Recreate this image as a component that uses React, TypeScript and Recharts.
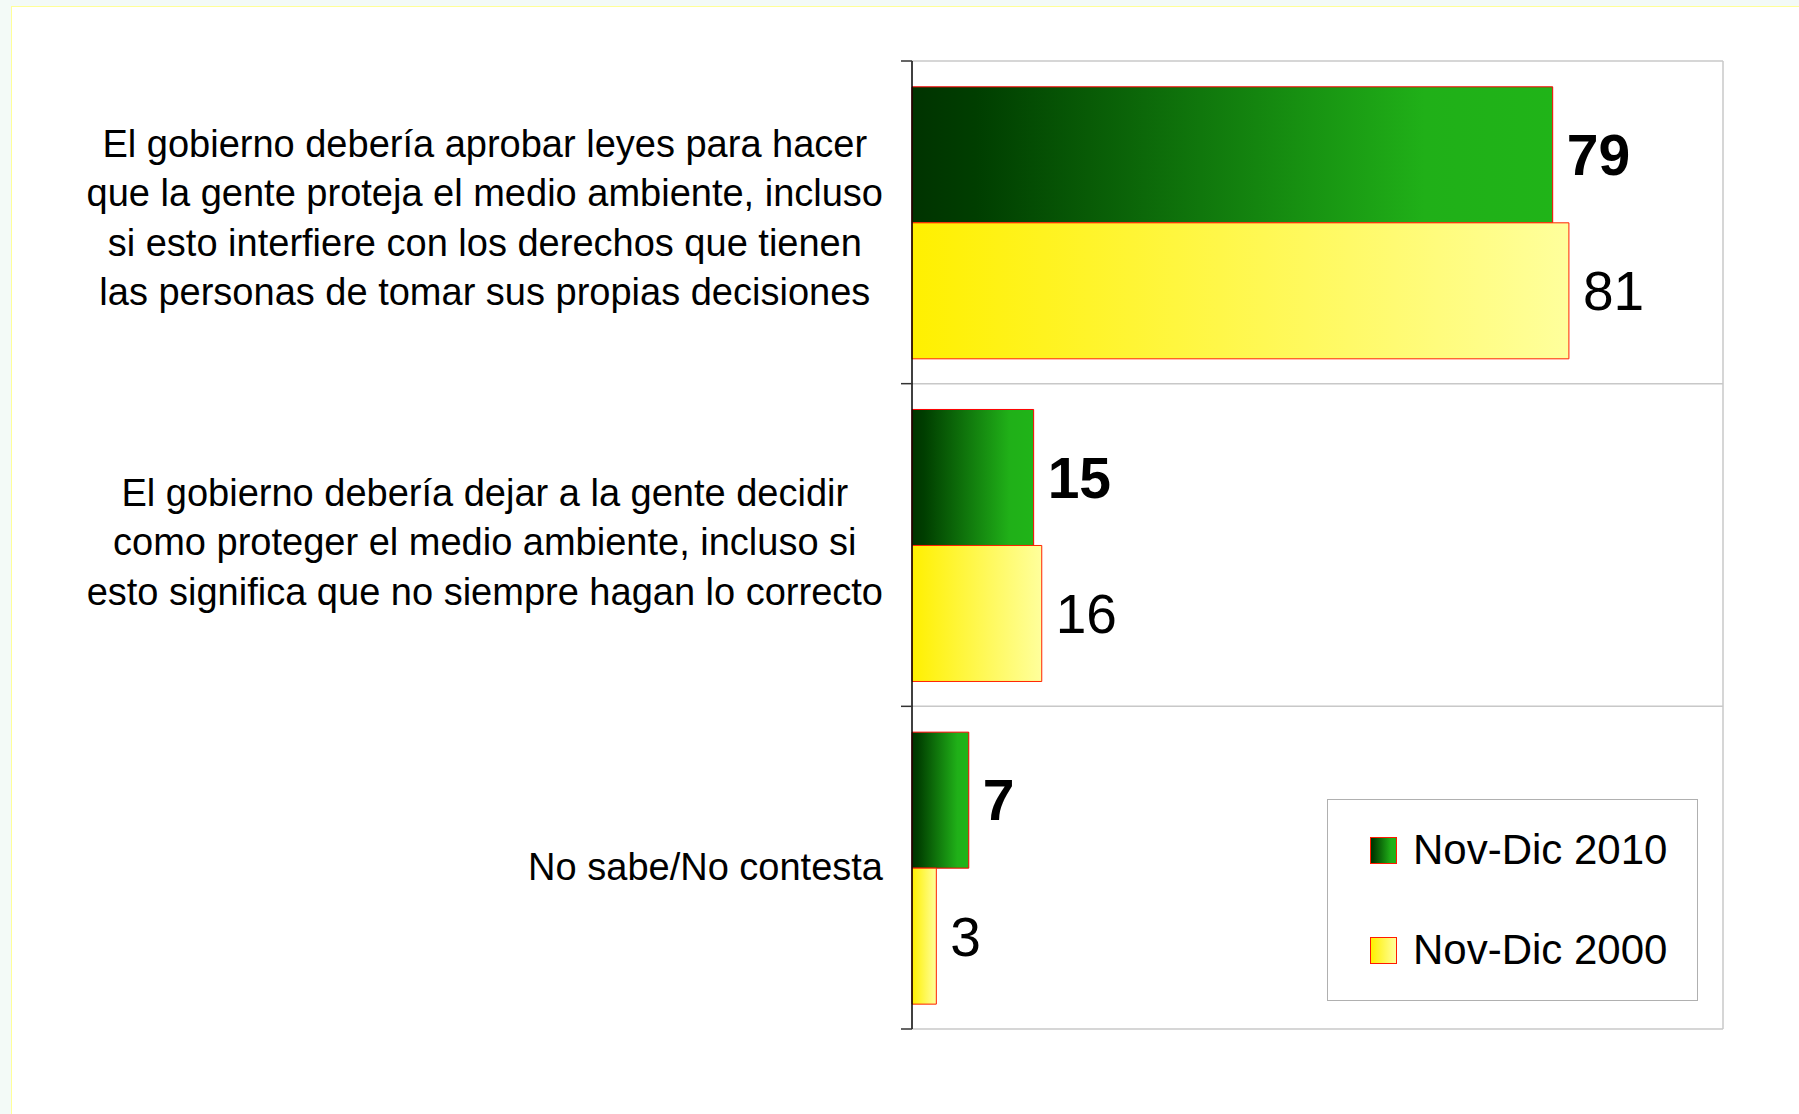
import React from 'react';
import { BarChart, Bar, XAxis, YAxis, CartesianGrid, LabelList, Legend } from 'recharts';

const categories = [
    'El gobierno debería aprobar leyes para hacer\nque la gente proteja el medio ambiente, incluso\nsi esto interfiere con los derechos que tienen\nlas personas de tomar sus propias decisiones',
    'El gobierno debería dejar a la gente decidir\ncomo proteger el medio ambiente, incluso si\nesto significa que no siempre hagan lo correcto',
    'No sabe/No contesta',
];
const nov2010 = [79, 15, 7];
const nov2000 = [81, 16, 3];
const seriesNames = ['Nov-Dic 2010', 'Nov-Dic 2000'];

const FONT = '"Liberation Sans", Arial, Helvetica, sans-serif';
const W = 1799;
const H = 1114;
const MARGIN = { top: 61, right: 76, bottom: 85, left: 0 };
const AXIS_X = 912;
const PLOT_H = H - MARGIN.top - MARGIN.bottom;
const LABEL_RIGHT = 883;
const LABEL_SIZE = 38;
const LINE_H = 49.5;

const GREEN_CSS = 'linear-gradient(to right, #003300, #003e00 10%, #20b018 80%, #20b418)';
const YELLOW_CSS = 'linear-gradient(to right, #fff000, #ffff9c)';

const chartData = categories.map((name, i) => ({ name, y2010: nov2010[i], y2000: nov2000[i] }));

// widest line of a label, so the block can be right-aligned with centred lines
let measureCtx: CanvasRenderingContext2D | null = null;
const textWidth = (s: string) => {
    if (!measureCtx) measureCtx = document.createElement('canvas').getContext('2d');
    if (!measureCtx) return s.length * LABEL_SIZE * 0.5;
    measureCtx.font = `${LABEL_SIZE}px ${FONT}`;
    return measureCtx.measureText(s).width;
};

const CategoryTick = (props: any) => {
    const { y, payload, index } = props;
    const lines = String(payload.value).split('\n');
    const band = PLOT_H / categories.length;
    const maxW = Math.max(...lines.map(textWidth));
    const cx = LABEL_RIGHT - maxW / 2;
    const shift = -(lines.length - 1) * 1.2 - 1;
    const first = y + shift - ((lines.length - 1) / 2) * LINE_H + 13.5;
    return (
        <g>
            <line x1={AXIS_X - 11} x2={AXIS_X} y1={y - band / 2} y2={y - band / 2} stroke="#333" strokeWidth={1.5} />
            {index === categories.length - 1 && (
                <line x1={AXIS_X - 11} x2={AXIS_X} y1={y + band / 2} y2={y + band / 2} stroke="#333" strokeWidth={1.5} />
            )}
            <text textAnchor="middle" fontSize={LABEL_SIZE} fontFamily={FONT} fill="#000">
                {lines.map((l, i) => (
                    <tspan key={i} x={cx} y={first + i * LINE_H}>{l}</tspan>
                ))}
            </text>
        </g>
    );
};

// legend order follows the series arrays, not the library's sorting
const renderLegend = () => (
    <div style={{
        width: 371, height: 202, boxSizing: 'border-box', border: '1.5px solid #b0b0b0',
        background: '#fff', display: 'flex', flexDirection: 'column', justifyContent: 'center',
    }}>
        {seriesNames.map((name, i) => (
            <div key={name} style={{ height: 100, display: 'flex', alignItems: 'center', paddingLeft: 42 }}>
                <span style={{
                    width: 27, height: 27, boxSizing: 'border-box', border: '1.5px solid #ff1a00',
                    background: i === 0 ? GREEN_CSS : YELLOW_CSS, marginRight: 16, display: 'inline-block',
                }} />
                <span style={{ fontFamily: FONT, fontSize: 42, color: '#000', lineHeight: 1 }}>{name}</span>
            </div>
        ))}
    </div>
);

export default function App() {
    return (
        <div style={{ position: 'absolute', left: 0, top: 0, width: W, height: H, overflow: 'hidden', background: '#f3faf7' }}>
            <div style={{ position: 'absolute', left: 11, top: 6, width: W, height: H, background: '#fff', borderLeft: '1.5px solid #ffff99', borderTop: '1.5px solid #ffff99' }} />
            <div style={{ position: 'absolute', left: 0, top: 0 }}>
                <BarChart
                    width={W}
                    height={H}
                    data={chartData}
                    layout="vertical"
                    margin={MARGIN}
                    barCategoryGap="8%"
                    barGap={0}
                >
                    <defs>
                        <linearGradient id="gGreen" x1="0" y1="0" x2="1" y2="0">
                            <stop offset="0%" stopColor="#003300" />
                            <stop offset="10%" stopColor="#003e00" />
                            <stop offset="80%" stopColor="#20b018" />
                            <stop offset="100%" stopColor="#20b418" />
                        </linearGradient>
                        <linearGradient id="gYellow" x1="0" y1="0" x2="1" y2="0">
                            <stop offset="0%" stopColor="#fff000" />
                            <stop offset="100%" stopColor="#ffff9c" />
                        </linearGradient>
                    </defs>
                    <CartesianGrid
                        stroke="#c8c8c8"
                        strokeWidth={1.5}
                        horizontalCoordinatesGenerator={({ offset }: any) =>
                            [0, 1, 2, 3].map((i) => offset.top + (offset.height * i) / categories.length)}
                        verticalCoordinatesGenerator={({ offset }: any) => [offset.left + offset.width]}
                    />
                    <XAxis type="number" domain={[0, 100]} hide />
                    <YAxis
                        type="category"
                        dataKey="name"
                        width={AXIS_X}
                        axisLine={{ stroke: '#000', strokeWidth: 1.5 }}
                        tickLine={false}
                        tick={<CategoryTick />}
                        interval={0}
                    />
                    <Bar dataKey="y2010" name={seriesNames[0]} fill="url(#gGreen)" stroke="#ff0000" strokeWidth={1} isAnimationActive={false}>
                        <LabelList dataKey="y2010" position="right" offset={14} fill="#000" fontSize={57} fontWeight="bold" fontFamily={FONT} />
                    </Bar>
                    <Bar dataKey="y2000" name={seriesNames[1]} fill="url(#gYellow)" stroke="#ff2200" strokeWidth={1} isAnimationActive={false}>
                        <LabelList dataKey="y2000" position="right" offset={14} fill="#000" fontSize={55} fontFamily={FONT} />
                    </Bar>
                    <Legend
                        layout="vertical"
                        align="center"
                        verticalAlign="middle"
                        content={renderLegend}
                        wrapperStyle={{ position: 'absolute', left: 1327, top: 799, width: 371, height: 202 }}
                    />
                </BarChart>
            </div>
        </div>
    );
}
